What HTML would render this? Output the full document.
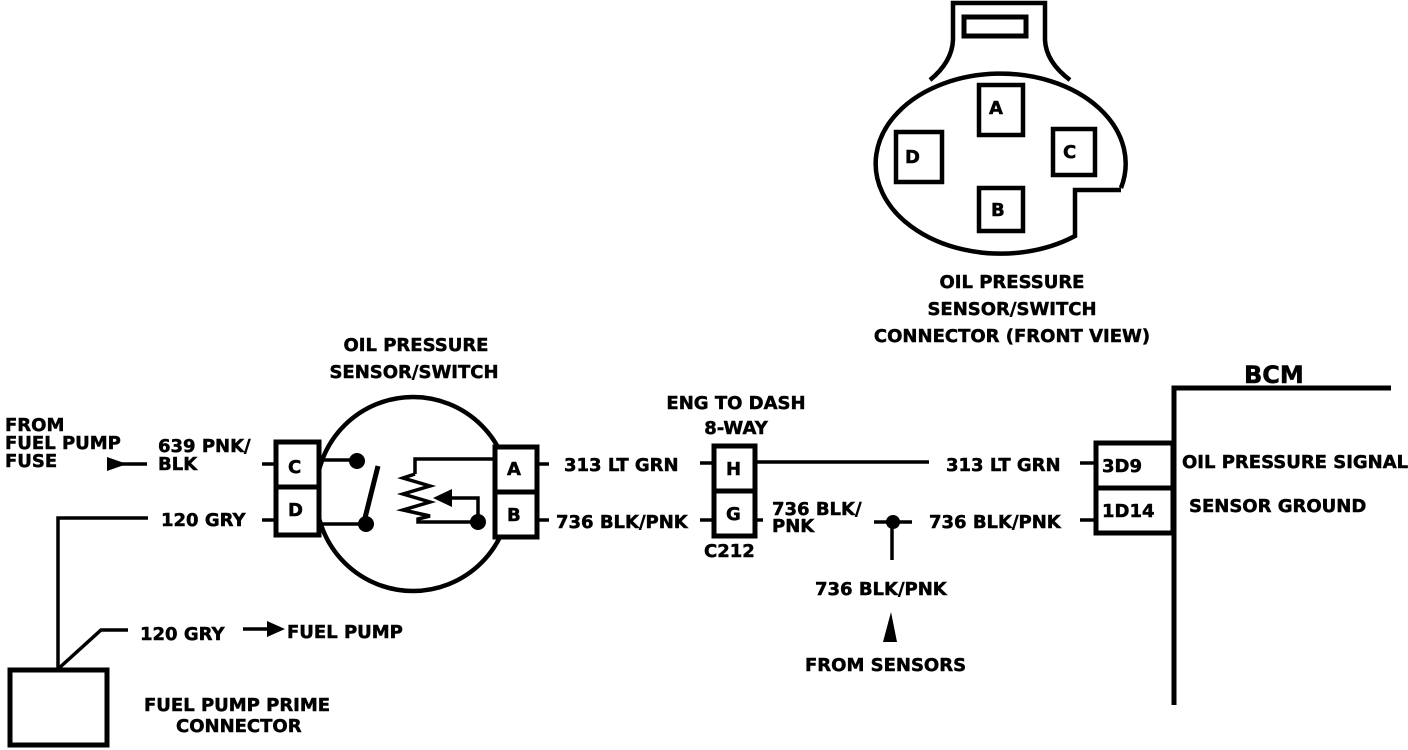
<!DOCTYPE html>
<html><head><style>
html,body{margin:0;padding:0;background:#fff;width:1408px;height:750px;overflow:hidden}
svg text{font-family:"DejaVu Sans","Liberation Sans",sans-serif;font-weight:bold;font-size:18px;fill:#000;stroke:#000;stroke-width:0.5px}
</style></head><body>
<svg width="1408" height="750" viewBox="0 0 1408 750" xmlns="http://www.w3.org/2000/svg">
<g fill="none" stroke="#000" stroke-width="4.5">
<!-- front view connector -->
<path d="M930,80 Q952,62 953,40 L953,3 L1045,3 L1045,40 Q1046,62 1070,80"/>
<rect x="964" y="17" width="62" height="19" stroke-width="5"/>
<path d="M1121,188 A125,90 0 1 0 1075,236 L1075,190 L1121,190"/>
<rect x="979" y="85" width="44" height="50"/>
<rect x="896" y="132" width="46" height="50"/>
<rect x="1053" y="129" width="42" height="46"/>
<rect x="979" y="188" width="44" height="43"/>
<!-- sensor -->
<circle cx="413" cy="494" r="97"/>
<rect x="276" y="442" width="43" height="93" fill="#fff" stroke-width="5"/>
<line x1="276" y1="487" x2="319" y2="487" stroke-width="5"/>
<rect x="495" y="447" width="42" height="90" fill="#fff" stroke-width="5"/>
<line x1="495" y1="492" x2="537" y2="492" stroke-width="5"/>
<g stroke-width="3.5">
<line x1="262" y1="464" x2="276" y2="464"/>
<line x1="262" y1="520" x2="276" y2="520"/>
<line x1="537" y1="464" x2="549" y2="464"/>
<line x1="537" y1="520" x2="549" y2="520"/>
<line x1="319" y1="460" x2="357" y2="460"/>
<line x1="319" y1="524" x2="365" y2="524"/>
<polyline points="494,459 415,459 415,474"/>
<polyline points="415,474 403,478 430,486 403,494 430,502 403,510 430,516 418,519 418,522 478,522"/>
<polyline points="478,522 478,498 450,498"/>
<!-- H G -->
<line x1="700" y1="463" x2="713" y2="463"/>
<line x1="700" y1="520" x2="713" y2="520"/>
<line x1="756" y1="520" x2="763" y2="520"/>
<line x1="756" y1="462" x2="929" y2="462"/>
<line x1="874" y1="522" x2="912" y2="522"/>
<line x1="892" y1="522" x2="892" y2="560"/>
<line x1="1080" y1="463" x2="1095" y2="463"/>
<line x1="1080" y1="520" x2="1095" y2="520"/>
<!-- left -->
<polyline points="148,518 58,518 58,669"/>
<polyline points="58,669 101,630 128,630"/>
<line x1="120" y1="464" x2="147" y2="464"/>
<line x1="243" y1="629" x2="270" y2="629"/>
</g>
<line x1="364" y1="522" x2="378" y2="466" stroke-width="5"/>
<rect x="714" y="446" width="41" height="90" stroke-width="5"/>
<line x1="714" y1="491" x2="755" y2="491" stroke-width="5"/>
<polyline points="1174,705 1174,388 1391,388" stroke-width="5"/>
<rect x="1096" y="443" width="77" height="90" stroke-width="5"/>
<line x1="1096" y1="488" x2="1173" y2="488" stroke-width="5"/>
<rect x="10" y="670" width="97" height="75" stroke-width="5"/>
</g>
<g fill="#000">
<circle cx="357" cy="461" r="8"/><circle cx="366" cy="524" r="8"/><circle cx="478" cy="522" r="8"/>
<circle cx="893" cy="522" r="7"/>
<polygon points="433,498 452,489 452,507"/>
<polygon points="107,457 127,464 107,471"/>
<polygon points="267,621 285,629 267,637"/>
<polygon points="883,642 897,642 891,612"/>
</g>
<text x="989" y="114">A</text>
<text x="905" y="163">D</text>
<text x="1063" y="158">C</text>
<text x="991" y="216">B</text>
<text x="288" y="473">C</text>
<text x="288" y="516">D</text>
<text x="507" y="475">A</text>
<text x="507" y="521">B</text>
<text x="726" y="475">H</text>
<text x="726" y="520">G</text>
<text x="1102" y="472">3D9</text>
<text x="1102" y="517">1D14</text>
<text x="1012" y="288" text-anchor="middle">OIL PRESSURE</text>
<text x="1012" y="315" text-anchor="middle">SENSOR/SWITCH</text>
<text x="1012" y="342" text-anchor="middle">CONNECTOR (FRONT VIEW)</text>
<text x="416" y="351" text-anchor="middle">OIL PRESSURE</text>
<text x="414" y="378" text-anchor="middle">SENSOR/SWITCH</text>
<text x="736" y="409" text-anchor="middle">ENG TO DASH</text>
<text x="736" y="434" text-anchor="middle">8-WAY</text>
<text x="1244" y="383" style="font-size:24px">BCM</text>
<text x="5" y="431">FROM</text>
<text x="5" y="449">FUEL PUMP</text>
<text x="5" y="467">FUSE</text>
<text x="158" y="452">639 PNK/</text>
<text x="158" y="470">BLK</text>
<text x="161" y="526">120 GRY</text>
<text x="140" y="640">120 GRY</text>
<text x="287" y="638">FUEL PUMP</text>
<text x="144" y="711">FUEL  PUMP PRIME</text>
<text x="176" y="732">CONNECTOR</text>
<text x="564" y="471">313 LT GRN</text>
<text x="556" y="528">736 BLK/PNK</text>
<text x="772" y="515">736 BLK/</text>
<text x="772" y="532">PNK</text>
<text x="704" y="557">C212</text>
<text x="946" y="471">313 LT GRN</text>
<text x="929" y="528">736 BLK/PNK</text>
<text x="815" y="595">736 BLK/PNK</text>
<text x="805" y="671">FROM SENSORS</text>
<text x="1182" y="468">OIL PRESSURE SIGNAL</text>
<text x="1189" y="512">SENSOR GROUND</text>
</svg>
</body></html>
